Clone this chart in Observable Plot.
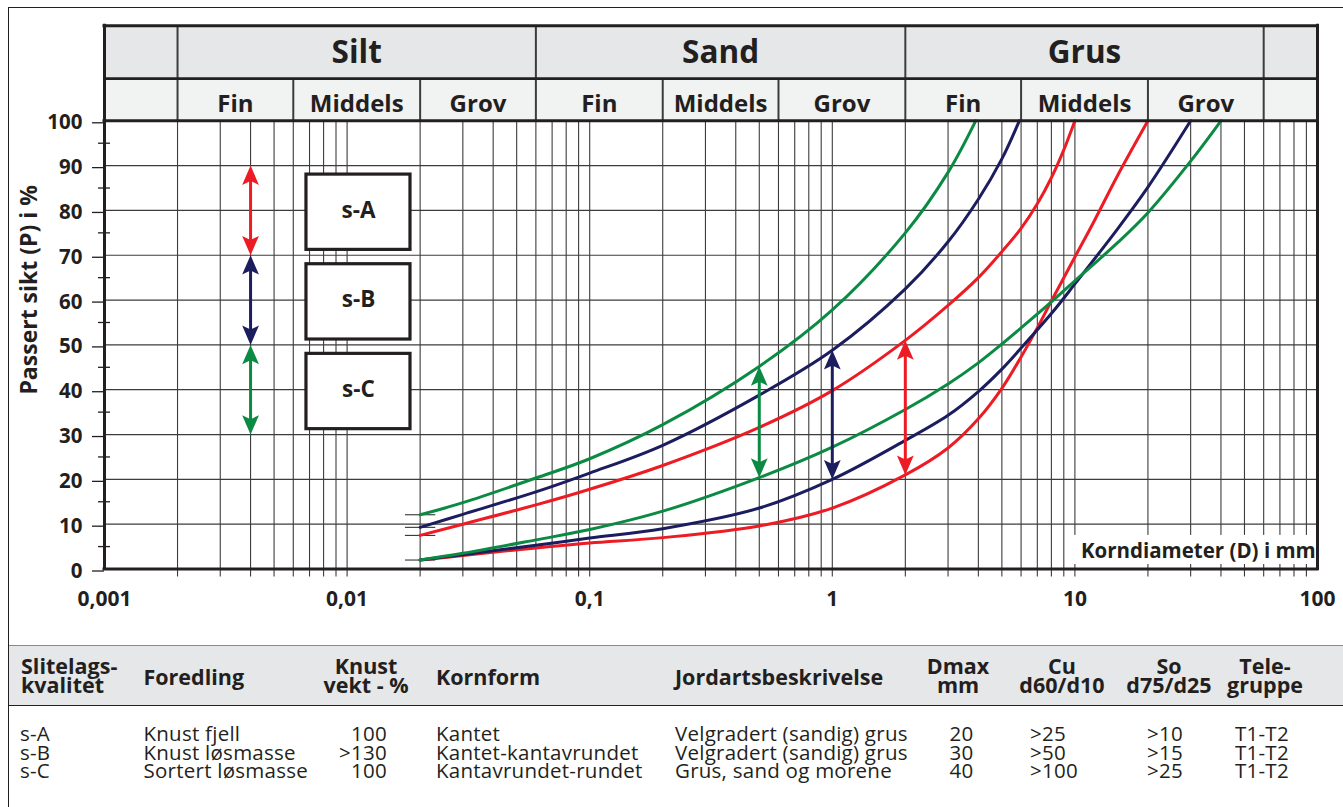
<!DOCTYPE html>
<html>
<head>
<meta charset="utf-8">
<script src="https://cdn.jsdelivr.net/npm/d3@7"></script>
<script src="https://cdn.jsdelivr.net/npm/@observablehq/plot@0.6"></script>
<style>
  html, body { margin: 0; padding: 0; background: #fff; }
  #root { position: relative; width: 1343px; height: 807px; overflow: hidden; font-family: "Open Sans", sans-serif; color: #231f20; }
  #chart { position: absolute; left: 0; top: 0; }
  #frame { position: absolute; left: 8.4px; top: 7.4px; width: 1400px; height: 900px; border-left: 1.4px solid #231f20; border-top: 1.4px solid #231f20; }
  #thead { position: absolute; left: 9px; top: 645px; width: 1340px; height: 59px; background: #e6e7e8; border-top: 1.5px solid #8a8a8c; border-bottom: 1.6px solid #231f20; }
  .t { position: absolute; white-space: nowrap; }
</style>
</head>
<body>
<div id="root">
  <div id="chart"></div>
  <div id="thead"></div>
  <div id="table"></div>
  <div id="frame"></div>
</div>
<script>
// ---------------- DATA ----------------
// Soil fractions (grain diameter, mm)
const fractions = ["Silt", "Sand", "Grus"];
const fractionBounds = [0.002, 0.06, 2, 60];
const subNames = ["Fin", "Middels", "Grov"];
const subBounds = [0.002, 0.006, 0.02, 0.06, 0.2, 0.6, 2, 6, 20, 60];

// Axis ticks
const xTicks = [0.001, 0.01, 0.1, 1, 10, 100];
const yTicks = [0, 10, 20, 30, 40, 50, 60, 70, 80, 90, 100];
const yMinorTicks = [5, 15, 25, 35, 45, 55, 65, 75, 85, 95];
const gridMantissas = [1, 2, 3, 4, 5, 6, 7, 8, 9];
const gridDecades = [0.001, 0.01, 0.1, 1, 10];

// Wear-layer qualities
const qualities = ["s-A", "s-B", "s-C"];
const qualityColors = ["#ed1c24", "#1c1d5e", "#0b8a43"];
const leftRanges = [[70, 90], [50, 70], [30, 50]];   // arrows at left
const rangeDiameters = [2, 1, 0.5];                 // arrows between the envelope curves

// Grading envelopes [diameter mm, passing %]
const sA_fine = [[0.02, 7.5], [0.03, 10], [0.06, 14.3], [0.1, 17.8], [0.2, 23.1], [0.5, 31.6], [1, 39.8], [2, 51], [3, 58.8], [4, 65], [5, 70.8], [6, 76], [7, 81.5], [8, 87.3], [9, 93.5], [10, 100]];
const sA_coarse = [[0.02, 2], [0.03, 3.0], [0.06, 4.7], [0.1, 5.8], [0.2, 7.0], [0.5, 9.6], [1, 13.6], [2, 21], [3, 27], [4, 33.5], [5, 40.3], [6, 47.3], [7, 53.8], [8, 59.8], [10, 69.6], [12, 77.6], [15, 87.8], [20, 100]];
const sB_fine = [[0.02, 9.3], [0.03, 12.2], [0.06, 17.2], [0.1, 21.4], [0.2, 27.6], [0.5, 38.8], [1, 48.8], [2, 62.5], [3, 73], [4, 82.5], [5, 91.5], [5.9, 100]];
const sB_coarse = [[0.02, 2], [0.03, 3.2], [0.06, 5.3], [0.1, 6.9], [0.2, 9.0], [0.5, 13.6], [1, 20], [2, 28.7], [3, 34.3], [4, 39.6], [5, 44.6], [6, 49.3], [8, 57], [10, 63.6], [15, 75.9], [20, 85.2], [30, 100]];
const sC_fine = [[0.02, 12.1], [0.03, 14.8], [0.06, 20.3], [0.1, 24.6], [0.2, 32.2], [0.5, 45.2], [1, 57.8], [2, 75], [3, 88.5], [3.9, 100]];
const sC_coarse = [[0.02, 2], [0.03, 3.5], [0.06, 6.5], [0.1, 8.8], [0.2, 12.9], [0.5, 20.4], [1, 27.2], [2, 35.6], [3, 41.3], [4, 46], [5, 50.2], [6, 53.8], [8, 59.6], [10, 64.3], [15, 72.8], [20, 79.5], [30, 91], [40, 100]];

// Table
const tblHeaders = [["Slitelags-", "kvalitet"], ["Foredling"], ["Knust", "vekt - %"], ["Kornform"], ["Jordartsbeskrivelse"], ["Dmax", "mm"], ["Cu", "d60/d10"], ["So", "d75/d25"], ["Tele-", "gruppe"]];
const foredling = ["Knust fjell", "Knust løsmasse", "Sortert løsmasse"];
const knustVekt = ["100", ">130", "100"];
const kornform = ["Kantet", "Kantet-kantavrundet", "Kantavrundet-rundet"];
const jordart = ["Velgradert (sandig) grus", "Velgradert (sandig) grus", "Grus, sand og morene"];
const dmax = ["20", "30", "40"];
const cu = [">25", ">50", ">100"];
const so = [">10", ">15", ">25"];
const telegruppe = ["T1-T2", "T1-T2", "T1-T2"];

// ---------------- CHART ----------------
const INK = "#231f20";
const GRID = "#3c3c3c";
const HEAD_MID = 109.4, HEAD_TOP = 121.2; // header band rows (drawn above the 100 % line)

const fines = [sA_fine, sB_fine, sC_fine];
const coarses = [sA_coarse, sB_coarse, sC_coarse];
const lookup = (arr, d) => arr.find(p => p[0] === d)[1];

const gridX = gridDecades.flatMap(dec => gridMantissas.map(m => +(m * dec).toPrecision(3))).filter(v => v > 0.001);

const subCells = subBounds.slice(0, -1).map((b, i) => ({name: subNames[i % 3], x: Math.sqrt(b * subBounds[i + 1])}));
const fracCells = fractions.map((f, i) => ({name: f, x: Math.sqrt(fractionBounds[i] * fractionBounds[i + 1])}));

const leftArrows = qualities.map((q, i) => ({q, color: qualityColors[i], x: 0.004, lo: leftRanges[i][0], hi: leftRanges[i][1]}));
const rightArrows = qualities.map((q, i) => ({q, color: qualityColors[i], x: rangeDiameters[i], lo: lookup(coarses[i], rangeDiameters[i]), hi: lookup(fines[i], rangeDiameters[i])}));
const arrows = leftArrows.concat(rightArrows);

const boxes = qualities.map((q, i) => ({q, mid: (leftRanges[i][0] + leftRanges[i][1]) / 2}));

const startTicks = [sA_fine[0][1], sB_fine[0][1], sC_fine[0][1], sA_coarse[0][1]];

// stealth arrow head, tip at origin, pointing up
const stealth = {draw(ctx) { ctx.moveTo(0, 0); ctx.lineTo(8.4, 19.3); ctx.lineTo(0, 15.3); ctx.lineTo(-8.4, 19.3); ctx.closePath(); }};

const curves = [];
qualities.forEach((q, i) => {
  [fines[i], coarses[i]].forEach(arr => {
    curves.push(Plot.line(arr, {x: d => d[0], y: d => d[1], stroke: qualityColors[i], strokeWidth: 3, curve: "catmull-rom"}));
  });
});

const chart = Plot.plot({
  width: 1343,
  height: 640,
  marginLeft: 104,
  marginRight: 26,
  marginTop: 120.3,
  marginBottom: 71.5,
  x: {type: "log", domain: [0.001, 100], label: null},
  y: {domain: [0, 100], label: null},
  style: {fontFamily: "'Open Sans', sans-serif", color: INK, background: "transparent", overflow: "visible"},
  marks: [
    // header band
    Plot.rect([0], {x1: 0.001, x2: 100, y1: HEAD_MID, y2: HEAD_TOP, fill: "#e6e7e8"}),
    Plot.rect([0], {x1: 0.001, x2: 100, y1: 100, y2: HEAD_MID, fill: "#f1f2f2"}),
    Plot.ruleX(fractionBounds, {y1: HEAD_MID, y2: HEAD_TOP, stroke: GRID, strokeWidth: 2}),
    Plot.ruleX(subBounds, {y1: 100, y2: HEAD_MID, stroke: GRID, strokeWidth: 2}),
    Plot.text(fracCells, {x: "x", y: 115.1, text: "name", fontSize: 31.5, fontWeight: "bold", fill: INK}),
    Plot.text(subCells, {x: "x", y: 103.75, text: "name", fontSize: 24, fontWeight: "bold", fill: INK}),

    // grid
    Plot.ruleX(gridX, {y1: -1.8, y2: 100, stroke: GRID, strokeWidth: 1.1}),
    Plot.ruleY(yTicks.filter(v => v > 0 && v < 100), {x1: 0.001, x2: 100, stroke: GRID, strokeWidth: 1.2}),

    // axis title box
    Plot.rect([0], {x1: 10, x2: 100, y1: 1.0, y2: 7.5, fill: "white", insetLeft: -1}),
    Plot.text(["Korndiameter (D) i mm"], {x: 10, y: 0, dx: 6, dy: -17.4, textAnchor: "start", fontSize: 20.5, fontWeight: "bold", fill: INK}),

    // quality boxes
    Plot.rect(boxes, {x1: 0.0068, x2: 0.01825, y1: d => d.mid - 8.8, y2: d => d.mid + 8.0, fill: "white", stroke: INK, strokeWidth: 3.2}),
    Plot.text(boxes, {x: Math.sqrt(0.0068 * 0.01825), y: "mid", text: "q", fontSize: 22.5, fontWeight: "bold", fill: INK}),

    // start ticks
    Plot.ruleY(startTicks, {x1: 0.0174, x2: 0.0232, stroke: INK, strokeWidth: 1}),

    // envelopes
    ...curves,

    // arrows
    Plot.ruleX(arrows, {x: "x", y1: "hi", y2: "lo", stroke: "color", strokeWidth: 3, insetTop: 12, insetBottom: 12}),
    Plot.dot(arrows, {x: "x", y: "hi", symbol: stealth, fill: "color", stroke: null, rotate: 0}),
    Plot.dot(arrows, {x: "x", y: "lo", symbol: stealth, fill: "color", stroke: null, rotate: 180}),

    // frame
    Plot.ruleX([0.001, 100], {y1: 0, y2: HEAD_TOP, stroke: INK, strokeWidth: 3, strokeLinecap: "square"}),
    Plot.ruleY([0, 100, HEAD_TOP], {x1: 0.001, x2: 100, stroke: INK, strokeWidth: 3, strokeLinecap: "square"}),
    Plot.ruleY([HEAD_MID], {x1: 0.001, x2: 100, stroke: INK, strokeWidth: 2.6}),

    // axes
    Plot.axisY({ticks: yTicks, tickSize: 12, tickPadding: 10, dy: 2, fontSize: 20.5, fontWeight: "bold", stroke: INK, strokeWidth: 1.3, fill: INK, label: null, tickFormat: d => String(d)}),
    Plot.axisY({ticks: yMinorTicks, tickSize: 12, dx: 6, label: null, tickFormat: () => "", stroke: INK, strokeWidth: 1.3}),
    Plot.axisX({ticks: xTicks, tickSize: 0, tickPadding: 21.6, fontSize: 21, fontWeight: "bold", fill: INK, label: null, tickFormat: d => String(d).replace(".", ",")}),

    // y title
    Plot.text(["Passert sikt (P) i %"], {frameAnchor: "left", y: 62.3, dx: -74.7, rotate: -90, textAnchor: "middle", fontSize: 23, fontWeight: "bold", fill: INK})
  ]
});
document.getElementById("chart").appendChild(chart);

// ---------------- TABLE ----------------
const tbl = document.getElementById("table");
function put(str, x, baseline, size, weight, align, lh, ls) {
  const el = document.createElement("div");
  el.className = "t";
  el.textContent = str;
  el.style.fontSize = size + "px";
  el.style.lineHeight = lh + "px";
  el.style.fontWeight = weight;
  if (ls) el.style.letterSpacing = ls + "px";
  el.style.top = (baseline - (lh / 2 + 0.388 * size)) + "px";
  el.style.left = x + "px";
  if (align === "center") el.style.transform = "translateX(-50%)";
  if (align === "right") el.style.transform = "translateX(-100%)";
  tbl.appendChild(el);
}
// header layout: [x, align]
const headLayout = [[21, "left"], [143.5, "left"], [366, "center"], [436, "left"], [675, "left"], [958, "center"], [1062, "center"], [1169, "center"], [1265, "center"]];
tblHeaders.forEach((lines, i) => {
  const [x, align] = headLayout[i];
  if (lines.length === 2) {
    put(lines[0], x, 674.3, 21.5, 700, align, 18, 0);
    put(lines[1], x, 693.3, 21.5, 700, align, 18, 0);
  } else {
    put(lines[0], x, 685, 21.5, 700, align, 18, 0);
  }
});
const rowBase = [742, 760.6, 779.2];
const cols = [[qualities, 20, "left"], [foredling, 143.5, "left"], [knustVekt, 387, "right"], [kornform, 436, "left"], [jordart, 675, "left"], [dmax, 961.5, "center"], [cu, 1030, "left"], [so, 1147, "left"], [telegruppe, 1235, "left"]];
cols.forEach(([arr, x, align]) => arr.forEach((v, r) => put(v, x, rowBase[r], 20.5, 400, align, 17.5, 0.25)));
</script>
</body>
</html>
